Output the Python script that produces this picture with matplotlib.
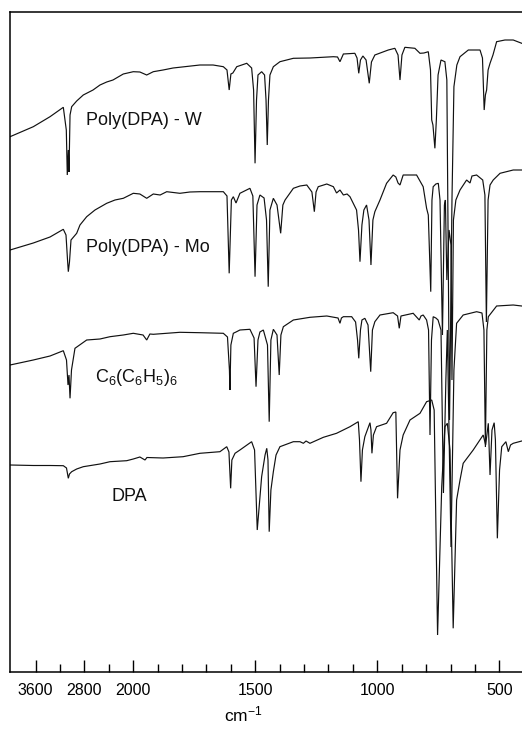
import numpy as np
import matplotlib
matplotlib.use("Agg")
import matplotlib.pyplot as plt

plt.rcParams['font.family'] = ['Liberation Sans', 'DejaVu Sans']
plt.rcParams['mathtext.fontset'] = 'custom'
plt.rcParams['mathtext.rm'] = 'Liberation Sans'
plt.rcParams['mathtext.it'] = 'Liberation Sans'

# ---- data: wavenumber (cm-1) and offset transmittance (arb. units) ----
w_wn = [4020, 3639, 3365, 3147, 3098, 3082, 3065, 3054, 3037, 3010, 2928, 2820, 2660, 2546, 2436, 2333,
        2164, 2000, 1973, 1945, 1918, 1878, 1837, 1727, 1673, 1631, 1616, 1607, 1600, 1592, 1576, 1535,
        1515, 1507, 1501, 1495, 1489, 1474, 1462, 1456, 1451, 1446, 1440, 1426, 1399, 1344, 1276, 1180,
        1163, 1153, 1139, 1092, 1083, 1076, 1069, 1059, 1046, 1033, 1024, 1010, 955, 928, 915, 907, 899,
        887, 846, 825, 809, 791, 782, 777, 772, 764, 758, 751, 739, 723, 715, 704, 694, 686, 674, 661,
        627, 600, 579, 569, 562, 557, 552, 546, 538, 526, 511, 477, 443, 408]
w_t = [535.3, 545.3, 555.3, 564.7, 542, 497, 522, 500, 557, 565.3, 571, 577, 582, 587, 590, 592,
       598, 600.3, 600, 597, 600.3, 602, 604, 607, 607, 605.3, 602, 582, 598, 599, 605.3, 608.7,
       604, 582, 508.7, 572, 597, 600.3, 597, 572, 527, 572, 597, 605.3, 610.3, 613.7, 614, 615.3,
       615, 610.3, 618, 618.7, 614, 598.7, 612, 616, 612, 588.7, 610, 617, 622, 623.7, 617, 592, 617,
       624.7, 623.7, 618.7, 619, 620.3, 602, 552, 547, 523.7, 552, 597, 612, 610.3, 592, 252, 472, 585.3, 607, 615.3,
       622, 622, 622, 614, 562, 577, 582, 602, 608.7, 617, 630.3, 632, 632, 628.7]

mo_wn = [4020, 3639, 3365, 3147, 3103, 3078, 3065, 3046, 3021, 2928, 2874, 2764, 2628, 2436, 2300, 2164,
         2000, 1973, 1945, 1918, 1890, 1863, 1809, 1768, 1727, 1631, 1616, 1607, 1598, 1590, 1579, 1563,
         1522, 1510, 1501, 1493, 1481, 1464, 1454, 1447, 1440, 1426, 1411, 1396, 1387, 1378, 1344, 1317,
         1289, 1268, 1258, 1251, 1242, 1207, 1180, 1167, 1153, 1139, 1124, 1112, 1085, 1077, 1071, 1063,
         1055, 1044, 1034, 1026, 1018, 1010, 989, 962, 935, 924, 915, 907, 894, 839, 812, 798, 791, 781,
         776, 771, 760, 750, 743, 733, 725, 721, 715, 706, 698, 694, 688, 678, 661, 634, 620, 612, 593,
         568, 559, 553, 546, 538, 525, 497, 443, 408]
mo_t = [422, 429, 435, 442.7, 437, 412, 400.3, 410, 432, 438.7, 447, 455.3, 462, 468.7, 472, 473.7,
        478.7, 478, 473.7, 478, 477, 480.3, 478.7, 480, 480.3, 480.3, 476, 398.7, 472, 475.3, 469, 478.7,
        483.7, 476, 395.3, 467, 477, 474, 452, 385.3, 462, 473.7, 467, 438.7, 467, 472, 483.7, 486,
        487, 480, 460.3, 480, 485.3, 488, 485.3, 479, 482, 477, 478, 475.3, 462, 442, 410.3, 447,
        462, 467, 452, 407, 452, 460.3, 472, 488.7, 497, 495, 489, 487, 497, 497, 485.3, 463.7, 457, 380.3,
        472, 485.3, 488, 488.7, 472, 337, 467, 472, 392, 442, 427, 292, 452, 472, 482, 492, 489, 496, 497,
        492, 477, 350, 472, 487, 492, 498.7, 502, 502]

c6_wn = [4020, 3639, 3365, 3147, 3095, 3070, 3054, 3037, 3013, 2956, 2764, 2546, 2382, 2164, 2000, 1960,
         1945, 1932, 1918, 1809, 1727, 1631, 1614, 1606, 1604, 1600, 1590, 1579, 1563, 1522, 1505, 1497,
         1489, 1481, 1467, 1450, 1443, 1436, 1426, 1411, 1402, 1395, 1385, 1344, 1276, 1207, 1161, 1153,
         1147, 1139, 1105, 1089, 1081, 1076, 1069, 1063, 1051, 1038, 1027, 1020, 1010, 989, 935, 917, 910,
         903, 853, 828, 821, 812, 798, 790, 784, 778, 771, 760, 751, 739, 729, 719, 713, 698, 686, 675,
         648, 593, 571, 563, 557, 551, 545, 511, 443, 408]
c6_t = [307, 312, 316, 321.3, 312, 287, 297, 273.7, 302, 323.7, 332, 333, 335.3, 337, 338.7, 337,
        332, 338, 337.7, 339.7, 339.3, 338.7, 335, 302, 282, 327, 338.7, 340, 342, 342.7, 334, 285.3,
        332, 340, 342, 327, 250.3, 332, 342.7, 337, 297, 337, 345.3, 352, 354.7, 356, 354, 348.7,
        354, 355.3, 355.3, 350, 332, 313.7, 342, 352, 353.7, 347, 300.3, 342, 350.3, 357, 359.3, 356, 343.7,
        356, 358.7, 352, 356, 357, 352, 342, 237, 332, 355.3, 354, 352, 342, 179, 292, 342, 125, 302, 348.7,
        357, 360.3, 359, 342, 225, 342, 355.3, 366, 367, 366]

dpa_wn = [4020, 3639, 3365, 3147, 3095, 3065, 3046, 3010, 2928, 2820, 2546, 2382, 2108, 2000, 1973, 1952,
          1944, 1878, 1796, 1727, 1645, 1617, 1608, 1601, 1596, 1583, 1563, 1515, 1503, 1492, 1474, 1460,
          1453, 1448, 1443, 1436, 1426, 1415, 1399, 1344, 1317, 1303, 1292, 1276, 1221, 1167, 1112, 1078,
          1073, 1067, 1061, 1051, 1030, 1026, 1022, 1016, 1003, 962, 935, 924, 917, 907, 894, 866, 825,
          798, 777, 767, 753, 736, 723, 713, 702, 689, 675, 661, 648, 607, 566, 556, 545, 538, 530, 521,
          516, 508, 499, 490, 473, 463, 454, 443, 408]
dpa_t = [207, 206.5, 206.5, 206.3, 204, 193.7, 198, 200.3, 203, 205.3, 208, 210.3, 211.3, 213, 215, 212,
         214.5, 214, 215.3, 218.7, 220.3, 225.3, 220, 183.7, 212, 218.7, 222, 230.3, 222, 142, 195.3, 217,
         223.7, 212, 140.3, 182, 200.3, 217, 225.3, 230.3, 230.3, 228.7, 231, 228.7, 234.7, 238.7, 245.3, 250.3,
         232, 190.3, 222, 235.3, 249.3, 242, 218.7, 237, 245.3, 248.7, 259.3, 260, 173.7, 222, 237, 252, 258.7,
         270.3, 272, 262, 37, 185.3, 245.3, 248.7, 222, 43.7, 172, 192, 208.7, 222, 237, 227, 248.7, 197, 242, 249.3,
         232, 133.7, 202, 225.3, 230.3, 220.3, 227, 228.7, 231]

labels = ["Poly(DPA) - W", "Poly(DPA) - Mo", r"C$_6$(C$_6$H$_5$)$_6$", "DPA"]
major_ticks = [3600, 2800, 2000, 1500, 1000, 500]
major_labels = ["3600", "2800", "2000", "1500", "1000", "500"]
minor_ticks = [3200, 2400, 1900, 1800, 1700, 1600, 1400, 1300, 1200, 1100, 900, 800, 700, 600]


# piecewise-linear IR abscissa: 400 cm-1 per division above 2000, 100 below (increasing map)
def fwd(w):
    w = np.asarray(w, dtype=float)
    return np.where(w >= 2000, (w - 4000) / 400.0, (w - 2000) / 100.0 - 5)


def inv(u):
    u = np.asarray(u, dtype=float)
    return np.where(u >= -5, 4000 + 400.0 * u, 2000 + 100.0 * (u + 5))


fig = plt.figure(figsize=(5.22, 7.31), dpi=100)
ax = fig.add_axes([10 / 522, 59 / 731, 512 / 522, 660 / 731])
ax.set_xscale('function', functions=(fwd, inv))

for wn, t in [(w_wn, w_t), (mo_wn, mo_t), (c6_wn, c6_t), (dpa_wn, dpa_t)]:
    ax.plot(wn, t, color='#111111', lw=0.85, solid_joinstyle='miter')

ax.set_xlim(4021, 407)
ax.set_ylim(0, 660)

label_pos = [(2775, 547), (2775, 420.3), (2628, 290.3), (2354, 171.3)]
for (lx, ly), s in zip(label_pos, labels):
    ax.text(lx, ly, s, fontsize=13, ha='left', va='baseline', color='#111111')

ax.set_xticks(major_ticks)
ax.set_xticklabels(major_labels)
ax.set_xticks(minor_ticks, minor=True)
ax.tick_params(axis='x', which='major', direction='in', length=9, width=1.0,
               labelsize=11.5, pad=8, top=False)
ax.tick_params(axis='x', which='minor', direction='in', length=5.5, width=1.0, top=False)
ax.set_yticks([])
for side in ['left', 'bottom', 'top']:
    ax.spines[side].set_linewidth(1.1)
ax.spines['right'].set_visible(False)

ax.set_xlabel(r"cm$^{-1}$", fontsize=12.5)
ax.xaxis.set_label_coords(0.455, -0.05)

fig.savefig("out.png", dpi=100)
